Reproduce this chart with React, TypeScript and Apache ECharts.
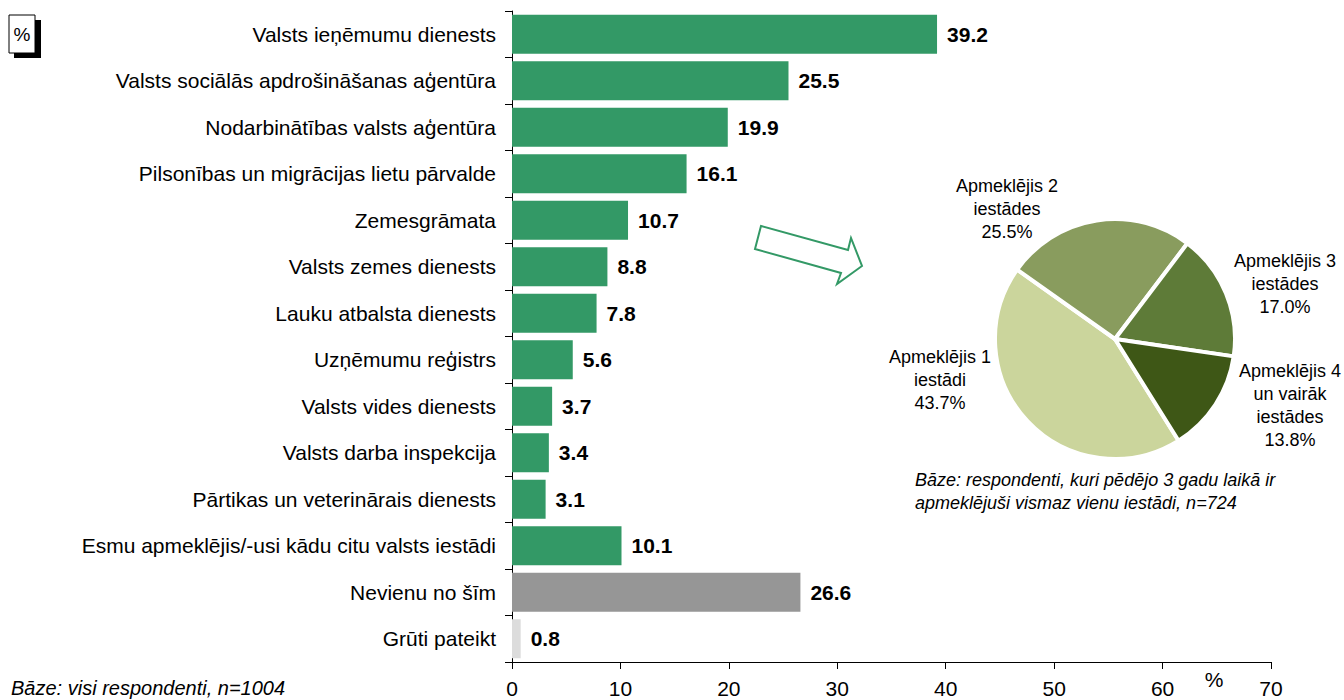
import React, { useEffect, useRef } from "react";
import * as echarts from "echarts";

const categories = [
  "Valsts ieņēmumu dienests",
  "Valsts sociālās apdrošināšanas aģentūra",
  "Nodarbinātības valsts aģentūra",
  "Pilsonības un migrācijas lietu pārvalde",
  "Zemesgrāmata",
  "Valsts zemes dienests",
  "Lauku atbalsta dienests",
  "Uzņēmumu reģistrs",
  "Valsts vides dienests",
  "Valsts darba inspekcija",
  "Pārtikas un veterinārais dienests",
  "Esmu apmeklējis/-usi kādu citu valsts iestādi",
  "Nevienu no šīm",
  "Grūti pateikt",
];
const values = [39.2, 25.5, 19.9, 16.1, 10.7, 8.8, 7.8, 5.6, 3.7, 3.4, 3.1, 10.1, 26.6, 0.8];
const barColors = [
  "#339966", "#339966", "#339966", "#339966", "#339966", "#339966", "#339966",
  "#339966", "#339966", "#339966", "#339966", "#339966", "#969696", "#DCDCDC",
];
const xTicks = { min: 0, max: 70, interval: 10 };

const pieNames = [
  "Apmeklējis 1\niestādi",
  "Apmeklējis 2\niestādes",
  "Apmeklējis 3\niestādes",
  "Apmeklējis 4\nun vairāk\niestādes",
];
const pieValues = [43.7, 25.5, 17.0, 13.8];
const pieColors = ["#CBD59C", "#899C5E", "#5E7B38", "#3E5716"];

const FONT = "Arial, 'Liberation Sans', Helvetica, sans-serif";
const pieCenter = [1115, 339];
const pieLabelPos = [
  [940, 380],
  [1007, 209],
  [1285, 284],
  [1290, 405],
];

export default function App() {
  const ref = useRef<HTMLDivElement>(null);
  useEffect(() => {
    if (!ref.current) return;
    const chart = echarts.init(ref.current, undefined, { renderer: "svg" });
    chart.setOption({
      animation: false,
      backgroundColor: "#ffffff",
      grid: { left: 512, right: 73, top: 11, bottom: 38, containLabel: false },
      xAxis: {
        type: "value",
        min: xTicks.min,
        max: xTicks.max,
        interval: xTicks.interval,
        axisLine: { show: true, lineStyle: { color: "#000", width: 1 } },
        axisTick: { show: true, length: 7, lineStyle: { color: "#000" } },
        splitLine: { show: false },
        axisLabel: { color: "#000", fontSize: 21, fontFamily: FONT, margin: 16 },
      },
      yAxis: {
        type: "category",
        inverse: true,
        data: categories,
        axisLine: { show: true, lineStyle: { color: "#000", width: 1 } },
        axisTick: { show: true, length: 7, lineStyle: { color: "#000" } },
        axisLabel: { color: "#000", fontSize: 21, fontFamily: FONT, margin: 16 },
      },
      series: [
        {
          type: "bar",
          data: values.map((v, i) => ({ value: v, itemStyle: { color: barColors[i] } })),
          barWidth: 39,
          label: {
            show: true,
            position: "right",
            distance: 10,
            color: "#000",
            fontWeight: "bold",
            fontSize: 21,
            fontFamily: FONT,
            formatter: (p: any) => Number(p.value).toFixed(1),
          },
        },
        {
          type: "pie",
          center: pieCenter,
          radius: 120,
          startAngle: 302,
          clockwise: true,
          avoidLabelOverlap: false,
          data: pieNames.map((n, i) => ({ name: n, value: pieValues[i], itemStyle: { color: pieColors[i] } })),
          itemStyle: { borderColor: "#ffffff", borderWidth: 4 },
          label: {
            show: true,
            position: "outside",
            color: "#000",
            fontSize: 18,
            lineHeight: 23,
            fontFamily: FONT,
            width: 150,
            overflow: "none",
            align: "center",
            formatter: (p: any) => `${p.name}\n${Number(p.value).toFixed(1)}%`,
          },
          labelLine: { show: false },
          labelLayout: (params: any) => {
            const pos = pieLabelPos[params.dataIndex];
            return { x: pos[0], y: pos[1], align: "center", verticalAlign: "middle" };
          },
          emphasis: { disabled: true },
        },
      ],
      graphic: [
        {
          type: "rect",
          shape: { x: 14, y: 20, width: 27, height: 38 },
          style: { fill: "#000" },
        },
        {
          type: "rect",
          shape: { x: 9, y: 15, width: 26, height: 38 },
          style: { fill: "#fff", stroke: "#000", lineWidth: 1 },
        },
        {
          type: "text",
          x: 22,
          y: 34,
          style: { text: "%", fontSize: 19, fontFamily: FONT, fill: "#000", align: "center", verticalAlign: "middle" },
        },
        {
          type: "polygon",
          shape: {
            points: [
              [761, 226],
              [848, 250],
              [851, 238],
              [862, 266],
              [837, 284],
              [841, 273],
              [755, 249],
            ],
          },
          style: { fill: "#fff", stroke: "#339966", lineWidth: 2 },
        },
        {
          type: "text",
          x: 1214,
          y: 679,
          style: { text: "%", fontSize: 21, fontFamily: FONT, fill: "#000", align: "center", verticalAlign: "middle" },
        },
        {
          type: "text",
          x: 11,
          y: 688,
          style: {
            text: "Bāze: visi respondenti, n=1004",
            fontSize: 20,
            fontStyle: "italic",
            fontFamily: FONT,
            fill: "#000",
            align: "left",
            verticalAlign: "middle",
          },
        },
        {
          type: "text",
          x: 915,
          y: 491,
          style: {
            text: "Bāze: respondenti, kuri pēdējo 3 gadu laikā ir\napmeklējuši vismaz vienu iestādi, n=724",
            fontSize: 18,
            lineHeight: 23,
            fontStyle: "italic",
            fontFamily: FONT,
            fill: "#000",
            align: "left",
            verticalAlign: "middle",
          },
        },
      ],
    });
    return () => chart.dispose();
  }, []);
  return (
    <div
      ref={ref}
      style={{ position: "fixed", left: 0, top: 0, width: 1344, height: 700 }}
    />
  );
}
